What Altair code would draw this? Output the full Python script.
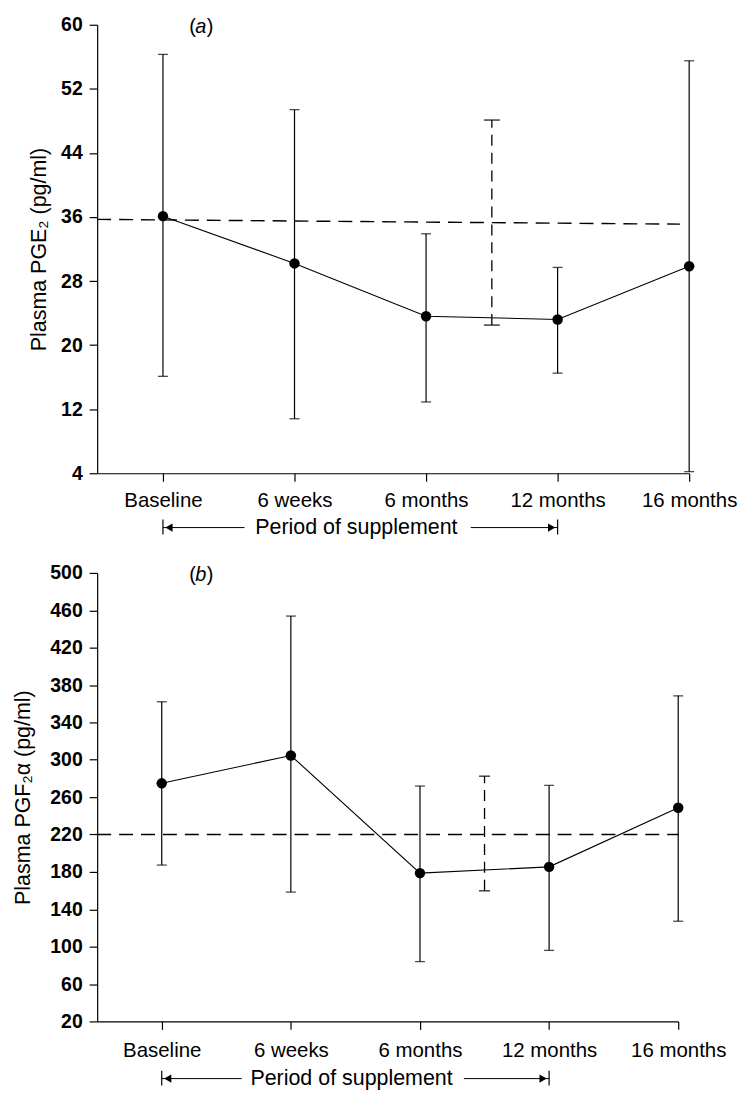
import json
import altair as alt
import pandas as pd

# ---------------- data ----------------
periods = ["Baseline", "6 weeks", "6 months", "12 months", "16 months"]

# panel (a): plasma PGE2 (pg/ml)
pge2_mean = [36.1, 30.2, 23.6, 23.2, 29.85]
pge2_low = [16.1, 10.8, 12.9, 16.5, 4.2]
pge2_high = [56.3, 49.4, 33.9, 29.7, 55.5]
pge2_ref_low = 22.5
pge2_ref_high = 48.1
pge2_ref_line = [35.7, 35.1]
pge2_ticks = [4, 12, 20, 28, 36, 44, 52, 60]

# panel (b): plasma PGF2alpha (pg/ml)
pgf_mean = [274.8, 304.6, 178.7, 185.4, 248.6]
pgf_low = [187.3, 158.4, 84.0, 96.0, 127.2]
pgf_high = [362.1, 453.8, 271.9, 272.6, 368.4]
pgf_ref_low = 159.8
pgf_ref_high = 282.4
pgf_ref_line = [220.0, 220.0]
pgf_ticks = [20, 60, 100, 140, 180, 220, 260, 300, 340, 380, 420, 460, 500]

# reference (dashed) bar sits between "6 months" and "12 months"
ref_pos = 2.5
# supplement period runs from Baseline to 12 months
period_start, period_end = 0, 3

FONT = "Liberation Sans"
INK = "black"


def panel(mean, low, high, ref_low, ref_high, ref_line, ref_line_end,
          y_ticks, y_title, tag, W, H, label_pad, period_dy, title_pad, ref_cap):
    xs = alt.Scale(domain=[-0.5, 4], nice=False, zero=False)
    ys = alt.Scale(domain=[y_ticks[0], y_ticks[-1]], nice=False, zero=False)
    xaxis = alt.Axis(
        values=list(range(len(periods))),
        labelExpr=json.dumps(periods) + "[datum.value]",
        title=None, grid=False, tickSize=8, labelPadding=label_pad,
        labelFontSize=20.5, labelFont=FONT, labelFontWeight="normal",
        labelFlush=False, labelOverlap=False,
    )
    yaxis = alt.Axis(
        values=y_ticks, title=y_title, grid=False, tickSize=8, labelPadding=7,
        labelFontSize=19.5, labelFont=FONT, labelFontWeight="bold",
        titleFontSize=21.5, titleFont=FONT, titleFontWeight="normal",
        titlePadding=title_pad,
    )

    def X(f):
        return alt.X(f"{f}:Q", scale=xs, axis=xaxis)

    def Y(f):
        return alt.Y(f"{f}:Q", scale=ys, axis=yaxis)

    df = pd.DataFrame({"i": list(range(len(periods))), "m": mean, "lo": low, "hi": high})
    base = alt.Chart(df)

    line = base.mark_line(color=INK, strokeWidth=1.1).encode(x=X("i"), y=Y("m"))
    bars = base.mark_rule(color=INK, strokeWidth=1.2).encode(x=X("i"), y=Y("lo"), y2="hi")
    cap_hi = base.mark_tick(orient="horizontal", size=10, thickness=1.3, color=INK).encode(x=X("i"), y=Y("hi"))
    cap_lo = base.mark_tick(orient="horizontal", size=10, thickness=1.3, color=INK).encode(x=X("i"), y=Y("lo"))
    pts = base.mark_circle(size=110, color=INK, opacity=1).encode(x=X("i"), y=Y("m"))

    rdf = pd.DataFrame({"i": [ref_pos], "lo": [ref_low], "hi": [ref_high]})
    rbase = alt.Chart(rdf)
    ref_bar = rbase.mark_rule(color=INK, strokeWidth=1.3, strokeDash=[11, 7]).encode(
        x=X("i"), y=Y("lo"), y2="hi")
    ref_hi = rbase.mark_tick(orient="horizontal", size=ref_cap, thickness=1.6, color=INK).encode(x=X("i"), y=Y("hi"))
    ref_lo = rbase.mark_tick(orient="horizontal", size=ref_cap, thickness=1.6, color=INK).encode(x=X("i"), y=Y("lo"))

    ldf = pd.DataFrame({"i": [-0.5], "i2": [ref_line_end], "m": [ref_line[0]], "m2": [ref_line[1]]})
    ref_line_mark = alt.Chart(ldf).mark_rule(color=INK, strokeWidth=1.4, strokeDash=[14, 8]).encode(
        x=X("i"), x2="i2", y=Y("m"), y2="m2")

    # "Period of supplement" arrow below the x axis
    py = H + period_dy
    seg_df = pd.DataFrame({"i": [period_start, 2.34], "i2": [0.62, period_end]})
    segs = alt.Chart(seg_df).mark_rule(color=INK, strokeWidth=1).encode(
        x=X("i"), x2="i2", y=alt.value(py))
    ends_df = pd.DataFrame({"i": [period_start, period_end]})
    ends = alt.Chart(ends_df).mark_rule(color=INK, strokeWidth=1.2).encode(
        x=X("i"), y=alt.value(py - 8), y2=alt.value(py + 7))
    head_l = alt.Chart(pd.DataFrame({"i": [period_start]})).mark_point(
        shape="triangle-left", filled=True, size=70, color=INK, opacity=1, xOffset=6
    ).encode(x=X("i"), y=alt.value(py))
    head_r = alt.Chart(pd.DataFrame({"i": [period_end]})).mark_point(
        shape="triangle-right", filled=True, size=70, color=INK, opacity=1, xOffset=-6
    ).encode(x=X("i"), y=alt.value(py))
    ptext = alt.Chart(pd.DataFrame({"i": [1.47]})).mark_text(
        text="Period of supplement", font=FONT, fontSize=21.5, color=INK, baseline="middle", align="center"
    ).encode(x=X("i"), y=alt.value(py))

    # panel tag "(a)" / "(b)"
    tag_x = 104
    t_open = alt.Chart(pd.DataFrame({"k": [0]})).mark_text(
        text="(", font=FONT, fontSize=20, color=INK, align="right", baseline="middle", dx=-5
    ).encode(x=alt.value(tag_x), y=alt.value(2))
    t_mid = alt.Chart(pd.DataFrame({"k": [0]})).mark_text(
        text=tag, font=FONT, fontSize=20, color=INK, fontStyle="italic", align="center", baseline="middle"
    ).encode(x=alt.value(tag_x), y=alt.value(2))
    t_close = alt.Chart(pd.DataFrame({"k": [0]})).mark_text(
        text=")", font=FONT, fontSize=20, color=INK, align="left", baseline="middle", dx=6
    ).encode(x=alt.value(tag_x), y=alt.value(2))

    return alt.layer(
        ref_line_mark, bars, cap_hi, cap_lo, ref_bar, ref_hi, ref_lo, line, pts,
        segs, ends, head_l, head_r, ptext, t_open, t_mid, t_close,
    ).properties(width=W, height=H)


top = panel(pge2_mean, pge2_low, pge2_high, pge2_ref_low, pge2_ref_high, pge2_ref_line, 3.93,
            pge2_ticks, "Plasma PGE₂ (pg/ml)", "a", 594, 450, 9, 54.5, 10.5, 16)
bottom = panel(pgf_mean, pgf_low, pgf_high, pgf_ref_low, pgf_ref_high, pgf_ref_line, 4.0,
               pgf_ticks, "Plasma PGF₂α (pg/ml)", "b", 583, 450, 11, 57.4, 15, 11)

chart = alt.vconcat(top, bottom, spacing=25).properties(
    padding={"left": 12.5, "top": 13, "right": 5, "bottom": 2},
    background="white",
).configure_view(stroke=None).configure_axis(
    domainColor=INK, tickColor=INK, labelColor=INK, titleColor=INK,
    domainWidth=1.2, tickWidth=1.2,
)

chart.save("out.html", embed_options={"renderer": "svg", "actions": False})
